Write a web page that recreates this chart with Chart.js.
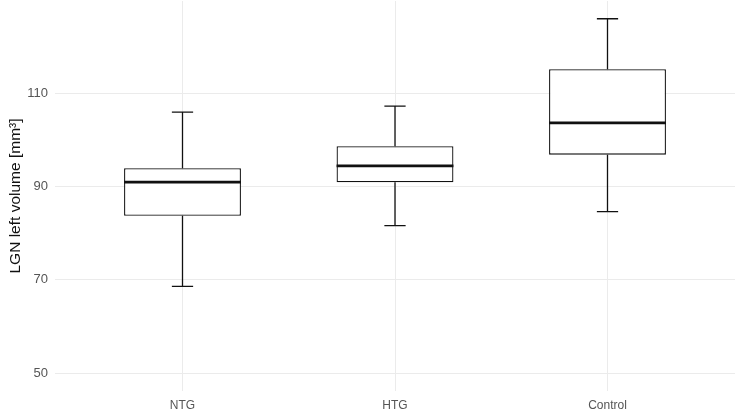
<!DOCTYPE html>
<html>
<head>
<meta charset="utf-8">
<script src="https://cdn.jsdelivr.net/npm/chart.js@4"></script>
<style>
  html, body { margin: 0; padding: 0; background: #fff; }
  #wrap { width: 737px; height: 410px; }
</style>
</head>
<body>
<div id="wrap"><canvas id="grafico"></canvas></div>
<script>
// datos (volumen LGN izquierdo, mm3)
const categorias = ['NTG', 'HTG', 'Control'];
const bigoteInf = [68.6, 81.6, 84.6];
const cuartil1 = [83.7, 90.9, 96.8];
const mediana = [90.9, 94.4, 103.6];
const cuartil3 = [93.9, 98.6, 115.1];
const bigoteSup = [105.9, 107.2, 125.9];
const ticksY = [50, 70, 90, 110];

const anchoCaja = 0.55;   // en unidades de categoria
const anchoTope = 0.1;

// bigotes, topes y medianas dibujados con las escalas del grafico
const pluginBigotes = {
  id: 'bigotes',
  afterDatasetsDraw(chart) {
    const ctx = chart.ctx;
    const x = chart.scales.x;
    const y = chart.scales.y;
    ctx.save();
    ctx.strokeStyle = '#111';
    categorias.forEach((c, i) => {
      const cx = x.getPixelForValue(i + 1);
      const tope = x.getPixelForValue(i + 1 + anchoTope / 2) - cx;
      const caja = x.getPixelForValue(i + 1 + anchoCaja / 2) - cx;
      ctx.lineWidth = 1.3;
      ctx.beginPath();
      ctx.moveTo(cx, y.getPixelForValue(bigoteInf[i]));
      ctx.lineTo(cx, y.getPixelForValue(cuartil1[i]));
      ctx.moveTo(cx, y.getPixelForValue(cuartil3[i]));
      ctx.lineTo(cx, y.getPixelForValue(bigoteSup[i]));
      ctx.moveTo(cx - tope, y.getPixelForValue(bigoteInf[i]));
      ctx.lineTo(cx + tope, y.getPixelForValue(bigoteInf[i]));
      ctx.moveTo(cx - tope, y.getPixelForValue(bigoteSup[i]));
      ctx.lineTo(cx + tope, y.getPixelForValue(bigoteSup[i]));
      ctx.stroke();
      ctx.lineWidth = 2.8;
      ctx.beginPath();
      ctx.moveTo(cx - caja, y.getPixelForValue(mediana[i]));
      ctx.lineTo(cx + caja, y.getPixelForValue(mediana[i]));
      ctx.stroke();
    });
    ctx.restore();
  }
};

const datosCajas = categorias.map((c, i) => ({ x: i + 1, y: [cuartil1[i], cuartil3[i]] }));

new Chart(document.getElementById('grafico'), {
  type: 'bar',
  data: {
    datasets: [{
      label: 'caja',
      data: datosCajas,
      backgroundColor: '#ffffff',
      borderColor: '#111',
      borderWidth: 1.3,
      borderSkipped: false,
      barPercentage: anchoCaja,
      categoryPercentage: 1
    }]
  },
  plugins: [pluginBigotes],
  options: {
    responsive: true,
    maintainAspectRatio: false,
    animation: false,
    layout: { padding: { top: 1, right: 2, left: 0, bottom: 0 } },
    plugins: {
      legend: { display: false },
      tooltip: { enabled: false }
    },
    scales: {
      x: {
        type: 'linear',
        min: 0.4,
        max: 3.6,
        offset: false,
        afterBuildTicks: (eje) => { eje.ticks = categorias.map((c, i) => ({ value: i + 1 })); },
        afterFit: (eje) => { eje.height = 19; eje.paddingLeft = 0; eje.paddingRight = 0; },
        grid: { color: '#ebebeb', lineWidth: 1, drawTicks: false, offset: false },
        border: { display: false },
        ticks: {
          padding: 7,
          color: '#555',
          font: { family: 'Liberation Sans, Arial, sans-serif', size: 12 },
          callback: (v) => categorias[v - 1]
        }
      },
      y: {
        min: 46.2,
        max: 129.7,
        afterBuildTicks: (eje) => { eje.ticks = ticksY.map(v => ({ value: v })); },
        afterFit: (eje) => { eje.width = 55; eje.paddingTop = 0; eje.paddingBottom = 0; },
        grid: { color: '#ebebeb', lineWidth: 1, drawTicks: false },
        border: { display: false },
        ticks: {
          padding: 7,
          color: '#555',
          font: { family: 'Liberation Sans, Arial, sans-serif', size: 13 }
        },
        title: {
          display: true,
          text: 'LGN left volume [mm³]',
          color: '#111',
          padding: { top: 6, bottom: 0 },
          font: { family: 'Liberation Sans, Arial, sans-serif', size: 15.5 }
        }
      }
    }
  }
});
</script>
</body>
</html>
